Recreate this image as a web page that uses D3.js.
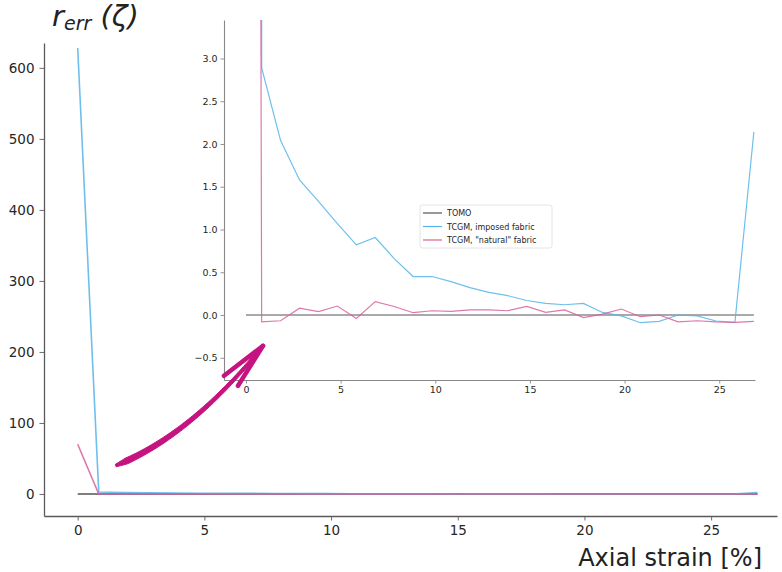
<!DOCTYPE html>
<html>
<head>
<meta charset="utf-8">
<script src="https://cdn.jsdelivr.net/npm/d3@7"></script>
<style>
  body { margin: 0; background: #fff; }
  svg { display: block; font-family: 'DejaVu Sans', sans-serif; }
</style>
</head>
<body>
<svg id="chart" width="782" height="572"></svg>
<script>
const strain = [0, 0.83, 1.83, 2.83, 3.83, 4.83, 5.83, 6.83, 7.83, 8.83, 9.83, 10.83, 11.83, 12.83,
  13.83, 14.83, 15.83, 16.83, 17.83, 18.83, 19.83, 20.83, 21.83, 22.83, 23.83, 24.83, 25.83, 26.83];

const tomo = [0, 0, 0, 0, 0, 0, 0, 0, 0, 0, 0, 0, 0, 0, 0, 0, 0, 0, 0, 0, 0, 0, 0, 0, 0, 0, 0, 0];

const imposed = [628, 2.89, 2.04, 1.58, 1.33, 1.07, 0.82, 0.906, 0.66, 0.45, 0.45, 0.39, 0.32, 0.265,
  0.226, 0.17, 0.136, 0.12, 0.136, 0.03, -0.01, -0.09, -0.075, 0.0, -0.01, -0.07, -0.085, 2.14];

const natural = [70, -0.08, -0.067, 0.08, 0.04, 0.105, -0.04, 0.156, 0.10, 0.027, 0.05, 0.042, 0.06, 0.06,
  0.05, 0.10, 0.03, 0.06, -0.03, 0.01, 0.07, -0.02, 0.0, -0.08, -0.067, -0.08, -0.085, -0.075];

const seriesNames = ['TOMO', 'TCGM, imposed fabric', 'TCGM, "natural" fabric'];
const seriesColors = ['#555555', '#56b4e9', '#d8609c'];

const mainXTicks = [0, 5, 10, 15, 20, 25];
const mainYTicks = [0, 100, 200, 300, 400, 500, 600];
const insetXTicks = [0, 5, 10, 15, 20, 25];
const insetYTicks = [-0.5, 0.0, 0.5, 1.0, 1.5, 2.0, 2.5, 3.0];

const mainXLimits = [-1.33, 27.6];
const mainYLimits = [-31, 635];
const insetXLimits = [-1.16, 26.89];
const insetYLimits = [-0.76, 3.45];

const svg = d3.select('#chart');
const series = [tomo, imposed, natural];

const fmtMinus = (s) => s.replace('-', '\u2212');

const drawAxes = (g, x, y, opts) => {
  const xAxis = g.append('g')
    .attr('transform', `translate(0,${y.range()[0]})`)
    .call(d3.axisBottom(x).tickValues(opts.xTicks).tickSizeInner(opts.tick).tickSizeOuter(0)
      .tickPadding(opts.pad).tickFormat(d3.format('d')));
  const yAxis = g.append('g')
    .attr('transform', `translate(${x.range()[0]},0)`)
    .call(d3.axisLeft(y).tickValues(opts.yTicks).tickSizeInner(opts.tick).tickSizeOuter(0)
      .tickPadding(opts.pad).tickFormat((d) => fmtMinus(opts.yFormat(d))));
  [xAxis, yAxis].forEach((a) => {
    a.select('.domain').attr('stroke', opts.spine).attr('stroke-width', opts.spineWidth);
    a.selectAll('.tick line').attr('stroke', opts.spine).attr('stroke-width', 0.9);
    a.selectAll('.tick text')
      .attr('fill', '#262626')
      .style('font-size', `${opts.font}px`)
      .style('font-family', 'DejaVu Sans');
  });
};

const drawLines = (g, x, y, clipId, width) => {
  const line = d3.line().x((d) => x(d[0])).y((d) => y(d[1]));
  series.forEach((vals, i) => {
    g.append('path')
      .datum(strain.map((s, j) => [s, vals[j]]))
      .attr('clip-path', `url(#${clipId})`)
      .attr('fill', 'none')
      .attr('stroke', seriesColors[i])
      .attr('stroke-width', width)
      .attr('stroke-opacity', i === 0 ? 1 : 0.85)
      .attr('d', line);
  });
};

// main axes
const mx = d3.scaleLinear().domain(mainXLimits).range([44, 777]);
const my = d3.scaleLinear().domain(mainYLimits).range([516, 43]);

const defs = svg.append('defs');
defs.append('clipPath').attr('id', 'clipMain')
  .append('rect').attr('x', 44).attr('y', 43).attr('width', 733).attr('height', 473);
defs.append('clipPath').attr('id', 'clipInset')
  .append('rect').attr('x', 224).attr('y', 20).attr('width', 531).attr('height', 360);

const main = svg.append('g');
drawLines(main, mx, my, 'clipMain', 1.6);
drawAxes(main, mx, my, {
  xTicks: mainXTicks, yTicks: mainYTicks, tick: 4.5, pad: 5, font: 13.5,
  spine: '#5a5a5a', spineWidth: 1.3, yFormat: d3.format('d'),
});

// inset axes
const ix = d3.scaleLinear().domain(insetXLimits).range([224, 755]);
const iy = d3.scaleLinear().domain(insetYLimits).range([380, 20]);

const inset = svg.append('g');
drawLines(inset, ix, iy, 'clipInset', 1.2);
drawAxes(inset, ix, iy, {
  xTicks: insetXTicks, yTicks: insetYTicks, tick: 3.5, pad: 3, font: 9.5,
  spine: '#888888', spineWidth: 1.1, yFormat: d3.format('.1f'),
});

// legend
const legend = svg.append('g').attr('transform', 'translate(420,205)');
legend.append('rect')
  .attr('width', 132).attr('height', 43)
  .attr('rx', 2.5)
  .attr('fill', '#fff').attr('fill-opacity', 0.85)
  .attr('stroke', '#dddddd').attr('stroke-width', 0.8);
seriesNames.forEach((name, i) => {
  const row = legend.append('g').attr('transform', `translate(0,${8 + i * 13.5})`);
  row.append('line')
    .attr('x1', 3).attr('x2', 22)
    .attr('stroke', seriesColors[i]).attr('stroke-width', 1.2);
  row.append('text')
    .attr('x', 27).attr('y', 3)
    .attr('fill', '#262626')
    .style('font-size', '8px')
    .text(name);
});

// hand-drawn arrow from main plot to inset
const p0 = [mx(1.5), my(40)];
const p2 = [ix(0.9), iy(-0.36)];
const ctrl = [p0[0] + 0.51 * (p2[0] - p0[0]), p0[1] + 0.25 * (p2[1] - p0[1])];
const bez = (t) => [0, 1].map((k) => (1 - t) * (1 - t) * p0[k] + 2 * t * (1 - t) * ctrl[k] + t * t * p2[k]);
const left = [];
const right = [];
d3.range(0, 1.0001, 0.025).forEach((t) => {
  const a = bez(Math.max(0, t - 0.01));
  const b = bez(Math.min(1, t + 0.01));
  const dx = b[0] - a[0];
  const dy = b[1] - a[1];
  const len = Math.hypot(dx, dy);
  const w = (t < 0.08 ? 2.5 + t * 50 : 6.2 - t * 3.4) / 2;
  const c = bez(t);
  left.push([c[0] - (dy / len) * w, c[1] + (dx / len) * w]);
  right.push([c[0] + (dy / len) * w, c[1] - (dx / len) * w]);
});
const arrowColor = '#c5137f';
svg.append('path')
  .attr('d', d3.line()(left.concat(right.reverse())) + 'Z')
  .attr('fill', arrowColor)
  .attr('stroke', arrowColor)
  .attr('stroke-width', 1)
  .attr('stroke-linejoin', 'round');
[[-39, 30], [-25, 40]].forEach(([dx, dy]) => {
  svg.append('line')
    .attr('x1', p2[0]).attr('y1', p2[1])
    .attr('x2', p2[0] + dx).attr('y2', p2[1] + dy)
    .attr('stroke', arrowColor)
    .attr('stroke-width', 4.5)
    .attr('stroke-linecap', 'round');
});

// axis labels
const ylab = svg.append('text')
  .attr('x', 52).attr('y', 26)
  .attr('fill', '#222')
  .style('font-style', 'italic');
ylab.append('tspan').style('font-size', '29px').text('r');
ylab.append('tspan').style('font-size', '19px').attr('dy', 4).text('err');
ylab.append('tspan').style('font-size', '29px').attr('dy', -4).text(' (\u03b6)');

svg.append('text')
  .attr('x', 762).attr('y', 566)
  .attr('text-anchor', 'end')
  .attr('fill', '#222')
  .style('font-size', '24px')
  .text('Axial strain [%]');
</script>
</body>
</html>
